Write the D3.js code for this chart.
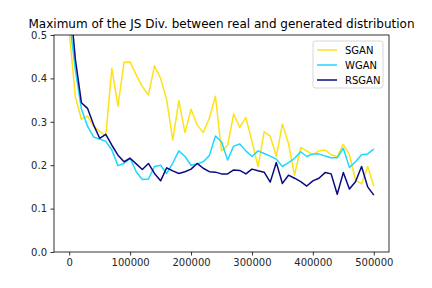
<!DOCTYPE html>
<html>
<head>
<meta charset="utf-8">
<script src="https://cdn.jsdelivr.net/npm/d3@7"></script>
<style>
  body { margin: 0; background: #fff; }
  svg { font-family: "DejaVu Sans", sans-serif; }
</style>
</head>
<body>
<div id="chart"></div>
<script>
// iterations 0..500000, every 10000
var steps = d3.range(0, 500001, 10000)

var sgan = [0.51, 0.358, 0.306, 0.313, 0.29, 0.278, 0.268, 0.423, 0.336, 0.437,
            0.438, 0.408, 0.381, 0.362, 0.429, 0.400, 0.350, 0.258, 0.349, 0.275,
            0.329, 0.293, 0.275, 0.308, 0.359, 0.233, 0.246, 0.318, 0.287, 0.310,
            0.255, 0.197, 0.277, 0.267, 0.220, 0.295, 0.250, 0.177, 0.241, 0.233,
            0.224, 0.233, 0.235, 0.224, 0.220, 0.248, 0.224, 0.166, 0.157, 0.197,
            0.152]
var wgan = [0.54, 0.42, 0.33, 0.29, 0.265, 0.26, 0.255, 0.235, 0.199, 0.204,
            0.216, 0.185, 0.167, 0.168, 0.197, 0.200, 0.181, 0.205, 0.233, 0.220,
            0.200, 0.203, 0.208, 0.222, 0.267, 0.254, 0.212, 0.244, 0.249, 0.233,
            0.220, 0.233, 0.227, 0.221, 0.214, 0.197, 0.206, 0.216, 0.231, 0.220,
            0.226, 0.226, 0.221, 0.217, 0.217, 0.239, 0.195, 0.208, 0.224, 0.226,
            0.237]
var rsgan = [0.60, 0.445, 0.344, 0.331, 0.293, 0.262, 0.271, 0.246, 0.223, 0.208,
             0.216, 0.203, 0.190, 0.204, 0.181, 0.164, 0.194, 0.187, 0.181, 0.185,
             0.191, 0.204, 0.193, 0.185, 0.184, 0.180, 0.180, 0.189, 0.188, 0.180,
             0.191, 0.187, 0.184, 0.161, 0.206, 0.158, 0.177, 0.170, 0.162, 0.152,
             0.164, 0.170, 0.183, 0.180, 0.133, 0.183, 0.145, 0.162, 0.197, 0.150,
             0.131]

var names = ['SGAN', 'WGAN', 'RSGAN']
var colors = ['#ffe119', '#1ad9ff', '#0a0a80']
var xTicks = [0, 100000, 200000, 300000, 400000, 500000]
var yTicks = [0, 0.1, 0.2, 0.3, 0.4, 0.5]

var width = 432, height = 288
var margin = {top: 35, right: 43, bottom: 36, left: 54}

var svg = d3.select('#chart').append('svg')
    .attr('width', width)
    .attr('height', height)

var x = d3.scaleLinear()
    .domain([-25000, 525000])
    .range([margin.left, width - margin.right])

var y = d3.scaleLinear()
    .domain([0, 0.5])
    .range([height - margin.bottom, margin.top])

svg.append('clipPath').attr('id', 'clip')
    .append('rect')
    .attr('x', margin.left)
    .attr('y', margin.top)
    .attr('width', width - margin.left - margin.right)
    .attr('height', height - margin.top - margin.bottom)

var line = d3.line()
    .x(function (d, i) { return x(steps[i]) })
    .y(function (d) { return y(d) })

var series = [sgan, wgan, rsgan]
svg.append('g').attr('clip-path', 'url(#clip)')
    .selectAll('path')
    .data(series)
    .enter()
    .append('path')
    .attr('d', line)
    .attr('fill', 'none')
    .attr('stroke', function (d, i) { return colors[i] })
    .attr('stroke-width', 1.5)
    .attr('stroke-linejoin', 'round')

// axes
var xAxis = svg.append('g')
    .attr('transform', 'translate(0,' + (height - margin.bottom) + ')')
    .call(d3.axisBottom(x).tickValues(xTicks).tickFormat(d3.format('d')).tickSize(3.5).tickPadding(3.5))
var yAxis = svg.append('g')
    .attr('transform', 'translate(' + margin.left + ',0)')
    .call(d3.axisLeft(y).tickValues(yTicks).tickFormat(d3.format('.1f')).tickSize(3.5).tickPadding(3.5))

svg.selectAll('.domain').remove()
svg.selectAll('.tick line').attr('stroke', '#000').attr('stroke-width', 0.8)
svg.selectAll('.tick text').attr('font-size', 10).attr('fill', '#262626')
    .attr('font-family', '"DejaVu Sans", sans-serif')

// frame
svg.append('rect')
    .attr('x', margin.left)
    .attr('y', margin.top)
    .attr('width', width - margin.left - margin.right)
    .attr('height', height - margin.top - margin.bottom)
    .attr('fill', 'none')
    .attr('stroke', '#000')
    .attr('stroke-width', 0.8)

svg.append('text')
    .attr('x', (margin.left + width - margin.right) / 2)
    .attr('y', margin.top - 7)
    .attr('text-anchor', 'middle')
    .attr('font-size', 12)
    .attr('fill', '#000')
    .text('Maximum of the JS Div. between real and generated distribution')

// legend
var lg = svg.append('g').attr('transform', 'translate(313,41)')
lg.append('rect')
    .attr('width', 70)
    .attr('height', 47)
    .attr('rx', 2.5)
    .attr('fill', '#fff')
    .attr('fill-opacity', 0.8)
    .attr('stroke', '#ccc')
    .attr('stroke-width', 0.8)

var item = lg.selectAll('.item')
    .data(names)
    .enter()
    .append('g')
    .attr('class', 'item')
    .attr('transform', function (d, i) { return 'translate(0,' + (9 + i * 15) + ')' })

item.append('line')
    .attr('x1', 4).attr('x2', 24)
    .attr('stroke', function (d, i) { return colors[i] })
    .attr('stroke-width', 1.5)

item.append('text')
    .attr('x', 32)
    .attr('dy', '0.35em')
    .attr('font-size', 10)
    .attr('fill', '#000')
    .text(function (d) { return d })
</script>
</body>
</html>
